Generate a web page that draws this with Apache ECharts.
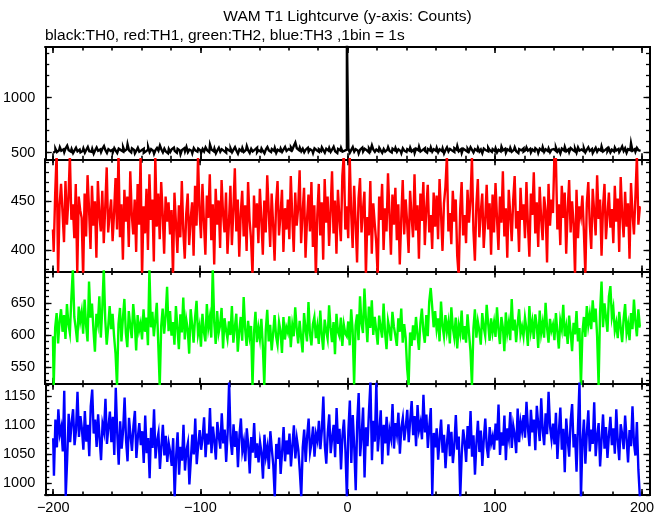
<!DOCTYPE html>
<html><head><meta charset="utf-8">
<script src="https://cdn.jsdelivr.net/npm/echarts@6/dist/echarts.min.js"></script>
<style>html,body{margin:0;padding:0;background:#fff}#c{width:669px;height:515px}</style>
</head><body><div id="c"></div>
<script>
// time of first bin (s) and bin width (1bin = 1s)
const tStart = -200;
const binSize = 1;

// TH0 (black)
const th0 = [
497,512,534,505,521,548,516,529,503,540,563,522,508,531,495,519,544,511,527,502,
515,538,499,526,551,512,507,533,490,521,546,517,529,504,537,559,520,496,531,514,
527,503,541,518,496,535,522,509,548,513,530,575,519,501,538,524,492,516,543,508,
520,534,497,511,526,549,505,531,514,489,523,542,517,563,528,502,536,510,494,532,
506,529,545,515,498,533,519,485,524,539,511,552,503,527,516,494,541,520,508,535,
518,497,532,510,547,522,505,571,528,512,536,493,521,544,507,530,515,499,538,524,
511,535,502,526,549,517,490,530,513,541,506,524,558,519,496,533,510,527,545,503,
522,508,537,514,493,529,550,518,504,531,516,542,497,525,512,536,506,528,551,515,
533,519,548,527,561,590,539,522,545,511,534,502,526,543,509,531,517,496,538,521,
507,530,514,546,522,499,535,518,541,506,528,553,512,495,533,520,544,509,518,526,
1600,537,498,524,550,509,531,516,492,527,545,510,534,521,503,539,518,566,525,506,
528,511,543,519,497,532,508,526,549,514,501,535,520,542,507,529,513,494,538,517,
505,531,518,544,510,527,496,536,521,552,509,524,540,515,499,533,519,546,508,530,
516,542,503,529,514,538,491,522,547,510,533,518,505,541,526,559,512,530,497,536,
521,507,535,513,548,524,500,532,517,543,509,528,494,537,520,511,545,523,506,531,
514,539,502,526,511,553,519,534,498,529,516,542,508,525,547,512,495,531,520,538,
509,524,546,517,533,501,528,512,540,522,497,535,518,549,506,530,514,537,503,526,
532,515,544,508,527,493,536,519,551,511,529,504,541,523,510,534,499,546,517,528,
512,538,501,526,547,515,532,496,520,543,507,530,518,555,509,524,541,513,535,502,
527,510,545,519,533,505,528,556,514,539,498,531,522,584,516,530,507,542,521,515
];

// TH1 (red)
const th1 = [
421,398,457,500,374,446,468,439,408,471,426,452,498,431,447,412,468,376,455,441,
433,372,458,414,477,442,401,466,425,450,392,471,436,419,461,407,444,485,418,437,
452,409,438,474,421,499,413,447,390,462,429,455,403,481,437,416,452,398,468,426,
496,371,445,417,463,400,478,431,452,388,497,424,458,411,470,437,396,455,429,449,
416,441,373,459,428,397,446,413,471,420,391,437,458,405,432,449,394,466,425,496,
441,412,468,429,395,456,433,478,410,447,385,463,426,451,402,472,437,418,459,396,
428,466,405,441,484,419,452,393,437,461,414,446,399,470,431,411,374,456,423,448,
407,463,432,395,451,418,477,440,403,458,426,389,447,471,415,436,462,398,443,421,
452,411,476,434,398,459,425,443,482,407,438,464,392,431,457,419,470,403,446,372,
436,468,415,449,390,473,428,455,404,440,481,417,451,396,462,433,409,476,499,421,
445,412,497,438,402,466,429,387,453,474,418,441,460,374,434,415,471,396,448,427,
408,373,455,431,468,400,443,419,479,437,395,457,426,464,410,447,385,432,472,416,
452,428,397,461,435,413,478,420,446,391,458,430,470,405,442,467,418,436,401,459,
424,456,411,473,437,399,448,465,497,419,438,406,461,429,452,394,373,441,470,415,
436,407,462,428,451,496,420,389,446,473,413,439,458,402,430,467,421,448,395,457,
418,469,433,400,455,428,481,414,443,392,462,437,409,451,476,422,440,398,464,431,
447,412,470,426,393,458,436,480,417,449,403,465,432,410,455,441,387,468,425,452,
438,498,495,421,447,405,466,433,459,396,441,472,418,450,427,374,462,412,445,435,
456,419,375,448,470,427,401,463,439,415,477,432,452,394,444,468,411,436,459,423,
442,407,466,429,453,398,475,436,413,460,424,448,391,469,438,416,455,497,426,444
];

// TH2 (green)
const th2 = [
598,520,611,634,587,622,640,605,631,594,648,617,603,657,702,628,610,589,644,621,
636,602,655,615,590,683,627,649,608,574,633,618,660,596,641,703,624,585,612,645,
609,633,598,571,521,617,642,590,626,656,603,581,637,614,595,648,622,576,631,607,
618,593,640,605,627,584,703,612,636,598,623,650,587,520,614,641,602,629,675,606,
637,599,620,585,645,611,578,632,604,658,593,624,609,571,640,616,588,627,653,601,
614,582,633,605,590,648,611,627,596,704,620,586,637,603,615,642,579,626,608,594,
621,600,645,588,612,633,574,606,628,591,659,610,583,622,598,614,521,603,636,589,
611,594,625,583,522,607,639,590,616,576,602,631,598,585,620,606,572,628,593,612,
604,629,581,615,598,643,610,587,622,596,573,634,609,590,651,603,584,617,628,595,
613,586,638,601,577,624,607,594,646,611,589,620,570,633,605,598,627,583,616,602,
598,621,584,640,607,523,615,632,592,660,618,603,672,625,589,644,611,654,600,628,
607,585,630,612,596,649,604,578,622,609,591,636,613,599,583,626,605,641,588,617,
596,548,522,604,583,615,592,628,601,577,619,641,606,588,631,598,652,673,644,612,
637,609,626,590,652,614,598,631,605,620,587,643,611,596,627,579,615,602,638,593,
614,588,632,603,575,522,610,640,596,621,607,585,634,612,599,647,618,591,626,604,
620,597,643,609,586,628,612,575,635,603,619,592,656,607,624,589,616,640,601,613,
598,627,610,583,645,606,621,594,632,615,580,638,603,619,596,650,611,588,625,607,
616,592,634,605,579,622,609,647,598,613,586,630,604,575,619,601,637,590,611,521,
603,628,597,645,615,632,609,654,620,641,598,522,636,683,612,649,627,605,660,676,
628,642,607,619,595,636,611,589,625,648,603,617,592,634,609,655,621,598,640,613
];

// TH3 (blue)
const th3 = [
1078,1013,1110,1062,1128,1085,1097,1055,1160,978,1042,1120,1071,1105,1128,1066,1092,1158,1080,1116,
1094,1058,1125,1072,1101,1047,1133,1162,1086,1110,1063,1119,1078,1040,1102,1089,1146,1068,1097,1124,
1071,1115,1049,1165,1086,1032,1107,1060,1092,1148,1074,1038,1113,1083,1056,1099,1125,1044,1080,1104,
1066,1090,1035,1117,1052,1078,1009,1096,1061,1128,1043,1073,1087,1025,1064,1101,1048,1082,1037,1069,
1054,1030,1078,976,1046,1088,1015,1063,1039,1101,1022,1057,1070,998,1041,1084,1050,1112,1033,1066,
1092,1058,1079,1114,1045,1086,1067,1130,1052,1098,1073,1041,1106,1081,1060,1121,1069,1093,1037,1088,
1176,1075,1049,1102,1063,1090,1028,1083,1112,1056,1072,1038,1095,1066,1017,1080,1053,1104,1044,1069,
1036,1071,1052,1008,1084,1047,1063,1025,1090,1059,1031,976,1068,1042,1079,1016,1055,1097,1038,1074,
1050,1086,1029,1065,1100,1043,1077,1058,1021,977,1062,1093,1037,1081,1112,1054,1070,1098,1046,1085,
1073,1108,1059,1092,1150,1066,1034,1087,1119,1052,1079,1101,1045,1130,1068,1094,1024,1083,1110,1057,
976,1090,1143,1035,1118,1062,988,1105,1156,1047,1082,1131,1010,1097,1064,1125,1175,1040,1108,1072,
1174,1055,1089,1126,1033,1101,1069,1115,1048,1092,1078,1137,1060,1104,1085,1122,1051,1096,1113,1074,
1098,1127,1071,1109,1142,1083,1116,1064,1135,1092,1105,1076,1153,1088,1119,1061,1099,1130,979,1087,
1062,1095,1041,1078,1110,1053,1084,1026,1070,1102,1047,1089,1035,1066,1118,1058,1081,977,1050,1093,
1072,1037,1099,1060,1125,1046,1083,1015,1070,1108,1054,1091,1030,1076,1112,1063,1044,1097,1069,1081,
1058,1103,1074,1136,1049,1088,1065,1117,1040,1095,1078,1123,1061,1100,1084,1052,1129,1071,1106,1090,
1118,1079,1141,1095,1064,1127,1088,1110,1057,1134,1101,1073,1147,1092,1066,1121,1085,1158,1098,1076,
1103,1067,1122,1042,1089,1131,1058,1094,1019,1112,1075,1046,1108,1137,1062,1085,1020,1099,1175,976,
1071,1110,1034,1087,1126,1055,1093,1068,1140,1047,1081,1104,1029,1076,1119,1060,1097,1044,1083,1115,
1066,1095,1051,1128,1073,1040,1102,1085,1059,1117,1077,1036,1092,1064,1133,1070,1048,1106,1024,977
];

// tick values / labels
const xMajorTicks = [-200, -100, 0, 100, 200];
const xMinorTicks = [-200,-180,-160,-140,-120,-100,-80,-60,-40,-20,0,20,40,60,80,100,120,140,160,180,200];
const y0Major = [500, 1000];
const y0Minor = [500,600,700,800,900,1000,1100,1200,1300,1400];
const y1Major = [400, 450];
const y1Minor = [380,390,400,410,420,430,440,450,460,470,480,490];
const y2Major = [550, 600, 650];
const y2Minor = [530,540,550,560,570,580,590,600,610,620,630,640,650,660,670,680,690];
const y3Major = [1000, 1050, 1100, 1150];
const y3Minor = [980,990,1000,1010,1020,1030,1040,1050,1060,1070,1080,1090,1100,1110,1120,1130,1140,1150,1160,1170];

const titleText = 'WAM T1 Lightcurve (y-axis: Counts)';
const subtitleText = 'black:TH0, red:TH1, green:TH2, blue:TH3 ,1bin = 1s';

const panels = [
  {data: th0, color: '#000000', range: [439, 1460], major: y0Major, minor: y0Minor},
  {data: th1, color: '#ff0000', range: [377.8, 493.4], major: y1Major, minor: y1Minor},
  {data: th2, color: '#00ff00', range: [524.3, 698.6], major: y2Major, minor: y2Minor},
  {data: th3, color: '#0000ff', range: [979.8, 1172], major: y3Major, minor: y3Minor}
];
const xRange = [-205.4, 205.4];

const FONT = '"Liberation Sans", Arial, Helvetica, sans-serif';
const LEFT = 45, RIGHT = 19, TOP = 47, H = 112.25;
const grids = [], xAxes = [], yAxes = [], series = [];
const minus = v => String(v).replace('-', '\u2212');
const plain = v => String(v);

panels.forEach((p, i) => {
  grids.push({left: LEFT, right: RIGHT, top: TOP + i * H, height: H, containLabel: false});
  const line = {show: true, onZero: false, lineStyle: {color: '#000', width: 2}};
  const xa = (pos, ticks, len, lab) => ({
    type: 'value', gridIndex: i, position: pos, min: xRange[0], max: xRange[1],
    axisLine: line,
    axisTick: {show: true, inside: true, length: len, customValues: ticks, lineStyle: {color: '#000', width: 1.6}},
    axisLabel: {show: lab, customValues: xMajorTicks, margin: 5, color: '#000', fontSize: 14.5, fontFamily: FONT, formatter: minus},
    splitLine: {show: false}
  });
  const ya = (pos, ticks, len, lab) => ({
    type: 'value', gridIndex: i, position: pos, min: p.range[0], max: p.range[1],
    axisLine: line,
    axisTick: {show: true, inside: true, length: len, customValues: ticks, lineStyle: {color: '#000', width: 1.3}},
    axisLabel: {show: lab, customValues: p.major, margin: 10, color: '#000', fontSize: 14.5, fontFamily: FONT, formatter: plain},
    splitLine: {show: false}
  });
  xAxes.push(xa('bottom', xMajorTicks, 6, i === 3));
  xAxes.push(xa('bottom', xMinorTicks, 3.5, false));
  xAxes.push(xa('top', xMajorTicks, 6, false));
  xAxes.push(xa('top', xMinorTicks, 3.5, false));
  yAxes.push(ya('left', p.major, 6.5, true));
  yAxes.push(ya('left', p.minor, 4, false));
  yAxes.push(ya('right', p.major, 6.5, false));
  yAxes.push(ya('right', p.minor, 4, false));
  series.push({
    type: 'line', xAxisIndex: i * 4, yAxisIndex: i * 4, step: 'middle', symbol: 'none',
    clip: true, sampling: false,
    lineStyle: {color: p.color, width: 2.4, join: 'miter', cap: 'butt'},
    data: p.data.map((v, k) => [tStart + k * binSize, v])
  });
});

const chart = echarts.init(document.getElementById('c'), null, {renderer: 'canvas'});
chart.setOption({
  animation: false,
  backgroundColor: '#ffffff',
  grid: grids, xAxis: xAxes, yAxis: yAxes, series: series,
  graphic: [
    {type: 'text', x: 347.5, y: 17, style: {text: titleText, fill: '#000', font: '15.5px ' + FONT, textAlign: 'center', textVerticalAlign: 'middle'}},
    {type: 'text', x: 45, y: 36, style: {text: subtitleText, fill: '#000', font: '15.5px ' + FONT, textAlign: 'left', textVerticalAlign: 'middle'}}
  ]
});
</script>
</body></html>
